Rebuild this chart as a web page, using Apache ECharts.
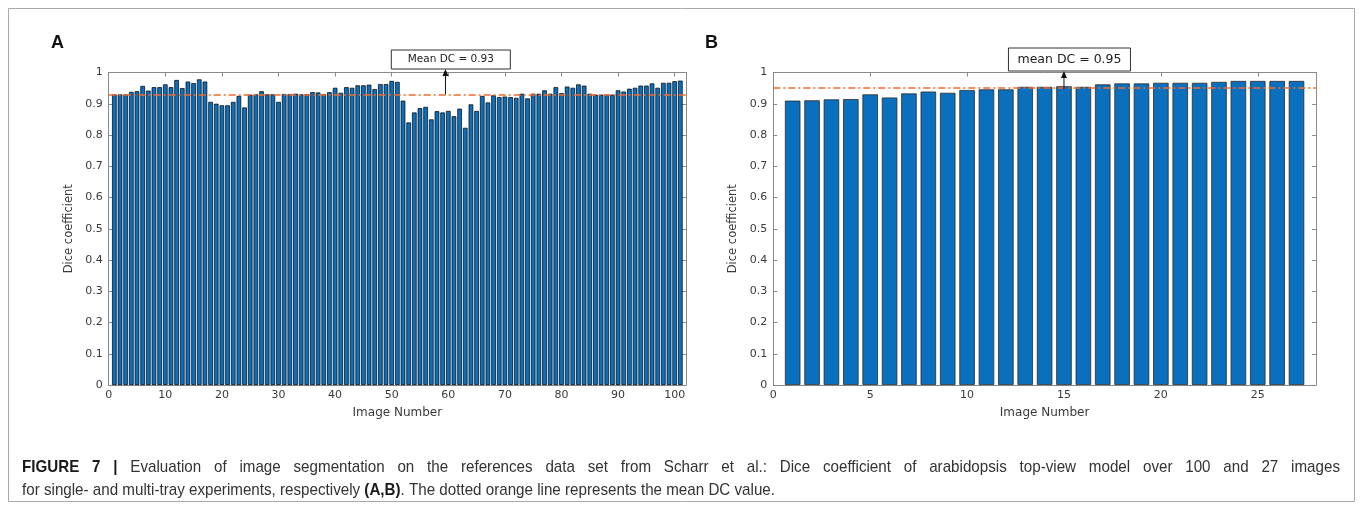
<!DOCTYPE html>
<html>
<head>
<meta charset="utf-8">
<script src="https://cdn.jsdelivr.net/npm/echarts@6/dist/echarts.min.js"></script>
<style>
html,body{margin:0;padding:0;background:#fff;}
#chart{width:1360px;height:510px;}
</style>
</head>
<body>
<div id="chart"></div>
<script>
// ---- data ----
const imageNumbersA = Array.from({length: 101}, (_, i) => i + 1);
const diceA = [
  0.930, 0.930, 0.930, 0.938, 0.940, 0.957, 0.942, 0.953, 0.953, 0.962,
  0.953, 0.976, 0.950, 0.971, 0.966, 0.978, 0.971, 0.906, 0.900, 0.895,
  0.895, 0.906, 0.925, 0.888, 0.929, 0.930, 0.940, 0.930, 0.930, 0.906,
  0.931, 0.931, 0.932, 0.930, 0.931, 0.937, 0.936, 0.931, 0.937, 0.951,
  0.935, 0.953, 0.951, 0.959, 0.959, 0.961, 0.947, 0.963, 0.963, 0.973,
  0.970, 0.910, 0.840, 0.872, 0.886, 0.890, 0.850, 0.876, 0.872, 0.877,
  0.860, 0.884, 0.823, 0.898, 0.877, 0.925, 0.904, 0.927, 0.921, 0.923,
  0.921, 0.919, 0.932, 0.917, 0.932, 0.932, 0.943, 0.932, 0.953, 0.934,
  0.955, 0.951, 0.962, 0.958, 0.932, 0.929, 0.929, 0.929, 0.929, 0.943,
  0.939, 0.948, 0.951, 0.958, 0.958, 0.965, 0.951, 0.967, 0.967, 0.972,
  0.974
];
const imageNumbersB = Array.from({length: 27}, (_, i) => i + 1);
const diceB = [
  0.910, 0.911, 0.914, 0.915, 0.930, 0.920, 0.933, 0.939, 0.935, 0.944,
  0.946, 0.946, 0.954, 0.954, 0.956, 0.954, 0.962, 0.965, 0.965, 0.967,
  0.967, 0.967, 0.970, 0.973, 0.973, 0.973, 0.973
];
const meanA = 0.93;
const meanB = 0.947;
const annotationA = 'Mean DC = 0.93';
const annotationB = 'mean DC = 0.95';
const arrowXA = 59.5;
const arrowXB = 15;
const xMaxA = 102, xMaxB = 28;
const xTickA = 10, xTickB = 5;
const yTicks = 0.1;
const panelLabels = ['A', 'B'];
const axisTitleX = 'Image Number';
const axisTitleY = 'Dice coefficient';
const captionLine1 = [
  ['FIGURE 7 |', true],
  ['Evaluation of image segmentation on the references data set from Scharr et al.: Dice coefficient of arabidopsis top-view model over 100 and 27 images', false]
];
const captionLine2 = [
  ['for single- and multi-tray experiments, respectively ', false],
  ['(A,B)', true],
  ['. The dotted orange line represents the mean DC value.', false]
];

// ---- styles ----
const axisGray = '#8a8a8a';
const labelColor = '#3a3a3a';
const barBlue = '#0a6fbd';
const meanOrange = '#f26b2f';
const font = 'DejaVu Sans';
const capFont = 'Liberation Sans';
const capSize = 17;

const chart = echarts.init(document.getElementById('chart'), null, {renderer: 'canvas'});

const grids = [
  {left: 108.7, top: 72.5, width: 577.3, height: 312.5},
  {left: 773.3, top: 72.5, width: 542.6, height: 312.5}
];

function xAxisPair(gi, max, interval) {
  const base = {
    type: 'value', gridIndex: gi, min: 0, max: max, interval: interval,
    splitLine: {show: false},
    axisLine: {show: true, onZero: false, lineStyle: {color: axisGray, width: 1}},
    axisTick: {show: true, inside: true, length: 4, lineStyle: {color: axisGray}}
  };
  return [
    Object.assign({}, base, {
      position: 'bottom',
      name: axisTitleX, nameLocation: 'middle', nameGap: 22,
      nameTextStyle: {fontFamily: font, fontSize: 12, color: labelColor},
      axisLabel: {fontFamily: font, fontSize: 11, color: labelColor, margin: 5,
        formatter: v => (Math.abs(v % interval) < 1e-9 ? String(v) : '')}
    }),
    Object.assign({}, base, {position: 'top', axisLabel: {show: false}})
  ];
}
function yAxisPair(gi) {
  const base = {
    type: 'value', gridIndex: gi, min: 0, max: 1, interval: yTicks,
    splitLine: {show: false},
    axisLine: {show: true, onZero: false, lineStyle: {color: axisGray, width: 1}},
    axisTick: {show: true, inside: true, length: 4, lineStyle: {color: axisGray}}
  };
  return [
    Object.assign({}, base, {
      position: 'left',
      name: axisTitleY, nameLocation: 'middle', nameGap: 34, nameRotate: 90,
      nameTextStyle: {fontFamily: font, fontSize: 11.5, color: labelColor},
      axisLabel: {fontFamily: font, fontSize: 11, color: labelColor, margin: 6,
        formatter: v => String(Math.round(v * 10) / 10)}
    }),
    Object.assign({}, base, {position: 'right', axisLabel: {show: false}})
  ];
}

function meanLine(v) {
  return {
    silent: true, symbol: 'none', label: {show: false},
    lineStyle: {color: meanOrange, width: 1.6, type: [7, 3, 2, 3]},
    data: [{yAxis: v}]
  };
}

const option = {
  animation: false,
  backgroundColor: '#fff',
  grid: grids,
  xAxis: [...xAxisPair(0, xMaxA, xTickA), ...xAxisPair(1, xMaxB, xTickB)],
  yAxis: [...yAxisPair(0), ...yAxisPair(1)],
  series: [
    {
      type: 'bar', xAxisIndex: 0, yAxisIndex: 0,
      data: imageNumbersA.map((n, i) => [n, diceA[i]]),
      barWidth: 4.6,
      itemStyle: {color: barBlue, borderColor: '#000', borderWidth: 0.7},
      markLine: meanLine(meanA)
    },
    {
      type: 'bar', xAxisIndex: 2, yAxisIndex: 2,
      data: imageNumbersB.map((n, i) => [n, diceB[i]]),
      barWidth: 15.5,
      itemStyle: {color: barBlue, borderColor: '#2b2b2b', borderWidth: 0.8},
      markLine: meanLine(meanB)
    }
  ]
};
chart.setOption(option);

// ---- annotations & text placed from axis coordinates ----
function annotation(xi, yi, ax, mean, text, boxW, boxH, boxTop, fs) {
  const base = chart.convertToPixel({xAxisIndex: xi, yAxisIndex: yi}, [ax, mean]);
  const boxBottom = boxTop + boxH;
  const headLen = 7;
  return [
    {type: 'rect', shape: {x: base[0] - boxW * 0.455, y: boxTop, width: boxW, height: boxH},
     style: {fill: '#fff', stroke: '#333', lineWidth: 1}, z: 10},
    {type: 'text', x: base[0] - boxW * 0.455 + boxW / 2, y: boxTop + boxH / 2,
     style: {text: text, fontFamily: font, fontSize: fs, fill: '#222', align: 'center', verticalAlign: 'middle'}, z: 11},
    {type: 'line', shape: {x1: base[0], y1: base[1], x2: base[0], y2: boxBottom + headLen - 1},
     style: {stroke: '#111', lineWidth: 1}, z: 10},
    {type: 'polygon', shape: {points: [[base[0], boxBottom], [base[0] - 3, boxBottom + headLen], [base[0] + 3, boxBottom + headLen]]},
     style: {fill: '#111'}, z: 10}
  ];
}

const graphics = [];
graphics.push(...annotation(0, 0, arrowXA, meanA, annotationA, 119, 19, 50, 10.5));
graphics.push(...annotation(2, 2, arrowXB, meanB, annotationB, 122, 23, 48, 12.5));
graphics.push({type: 'text', x: 51, y: 34, style: {text: panelLabels[0], fontFamily: 'Liberation Sans', fontWeight: 'bold', fontSize: 18, fill: '#111'}});
graphics.push({type: 'text', x: 705, y: 34, style: {text: panelLabels[1], fontFamily: 'Liberation Sans', fontWeight: 'bold', fontSize: 18, fill: '#111'}});

// ---- caption: line 2 sets the horizontal scale, line 1 is justified ----
const mctx = document.createElement('canvas').getContext('2d');
function measure(t, bold) {
  mctx.font = (bold ? 'bold ' : '') + capSize + 'px "' + capFont + '"';
  return mctx.measureText(t).width;
}
const line2Target = 753;
const line2Raw = captionLine2.reduce((s, p) => s + measure(p[0], p[1]), 0);
const capScale = line2Target / line2Raw;
const capLeft = 22, capRight = 1340;
const line1Y = 467, line2Y = 490;

const words1 = [];
captionLine1.forEach(p => p[0].split(' ').forEach(w => { if (w) words1.push([w, p[1]]); }));
const wordsW = words1.map(w => measure(w[0], w[1]) * capScale);
const gap = (capRight - capLeft - wordsW.reduce((a, b) => a + b, 0)) / (words1.length - 1);
let cx = capLeft;
words1.forEach((w, i) => {
  graphics.push({type: 'text', x: cx, y: line1Y, scaleX: capScale, originX: 0,
    style: {text: w[0], fontFamily: capFont, fontSize: capSize, fontWeight: w[1] ? 'bold' : 'normal',
            fill: w[1] ? '#1a1a1a' : '#333', verticalAlign: 'middle'}});
  cx += wordsW[i] + gap;
});
cx = capLeft;
captionLine2.forEach(p => {
  graphics.push({type: 'text', x: cx, y: line2Y, scaleX: capScale, originX: 0,
    style: {text: p[0], fontFamily: capFont, fontSize: capSize, fontWeight: p[1] ? 'bold' : 'normal',
            fill: p[1] ? '#1a1a1a' : '#333', verticalAlign: 'middle'}});
  cx += measure(p[0], p[1]) * capScale;
});

graphics.push({type: 'rect', shape: {x: 8.5, y: 8.5, width: 1346, height: 493}, style: {fill: 'none', stroke: '#aaa', lineWidth: 1}});
chart.setOption({graphic: graphics});
</script>
</body>
</html>
